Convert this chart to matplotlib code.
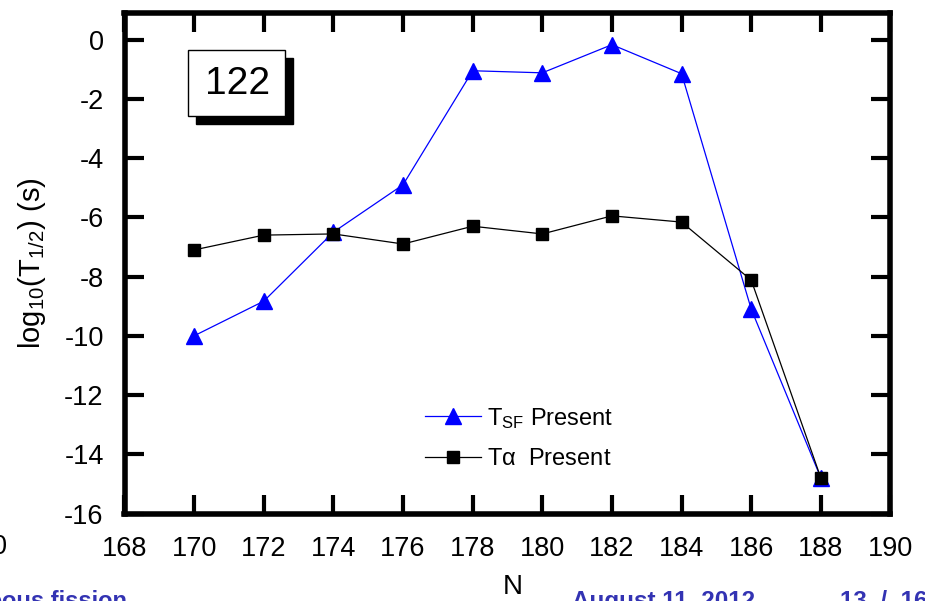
import matplotlib
matplotlib.use('Agg')
import matplotlib.pyplot as plt
from matplotlib.patches import Rectangle

plt.rcParams['font.family'] = ['Liberation Sans', 'DejaVu Sans']
plt.rcParams['mathtext.fontset'] = 'custom'
plt.rcParams['mathtext.rm'] = 'Liberation Sans'
plt.rcParams['mathtext.it'] = 'Liberation Sans'
plt.rcParams['axes.unicode_minus'] = False

# neutron number
N = [170, 172, 174, 176, 178, 180, 182, 184, 186, 188]
# log10 half-lives (s)
t_sf = [-10.0, -8.83, -6.5, -4.9, -1.05, -1.12, -0.17, -1.15, -9.1, -14.8]
t_alpha = [-7.1, -6.6, -6.56, -6.9, -6.3, -6.56, -5.95, -6.16, -8.12, -14.8]

x_ticks = list(range(168, 191, 2))
y_ticks = list(range(-16, 1, 2))

fig = plt.figure(figsize=(9.25, 6.01), dpi=100)
ax = fig.add_axes([124.5/925, 1 - 513.5/601, 766/925, 500.5/601])

ax.plot(N, t_sf, '-^', color='#0000ff', lw=0.9, markersize=11,
        label=r'T$_{\mathrm{SF}}$ Present')
ax.plot(N, t_alpha, '-s', color='black', lw=0.9, markersize=9,
        label=r'T$\alpha$  Present')

ax.set_xlim(168, 190)
ax.set_ylim(-16, 0.9)
ax.set_xticks(x_ticks)
ax.set_yticks(y_ticks)
ax.tick_params(which='major', direction='in', length=14, width=3,
               top=True, right=True, labelsize=19.5)
ax.tick_params(axis='x', pad=16)
ax.tick_params(axis='y', pad=15)
for s in ax.spines.values():
    s.set_linewidth(4)

ax.set_xlabel('N', fontsize=20)
ax.xaxis.set_label_coords(0.5075, -0.121)
ax.set_ylabel(r'log$_{10}$(T$_{1/2}$) (s)', fontsize=21)
ax.yaxis.set_label_coords(-0.1, 0.5)

# "122" label box with drop shadow
ax.add_patch(Rectangle((0.0939, 0.7784), 0.1265, 0.1317, transform=ax.transAxes,
                       facecolor='black', edgecolor='black', zorder=4))
ax.add_patch(Rectangle((0.0834, 0.7944), 0.1265, 0.1317, transform=ax.transAxes,
                       facecolor='white', edgecolor='black', lw=1, zorder=5))
ax.text(0.1473, 0.859, '122', transform=ax.transAxes, fontsize=28,
        ha='center', va='center', zorder=6)

ax.legend(loc='center left', bbox_to_anchor=(0.392, 0.151), frameon=False,
          fontsize=17, handlelength=2.4, handletextpad=0.25, borderaxespad=0,
          borderpad=0, labelspacing=0.75)

# slide footer fragments
fig.text(7/925, 1 - 547/601, '0', fontsize=19.5, ha='right', va='center')
foot = '#3333b3'
base = 1 - 608/601
fig.text(-0.012, base, 'eous fission', fontsize=17, fontweight='bold',
         color=foot, ha='left', va='baseline')
fig.text(572/925, base, 'August 11, 2012', fontsize=17.5, fontweight='bold',
         color=foot, ha='left', va='baseline')
fig.text(840/925, base, '13  /  16', fontsize=17.5, fontweight='bold',
         color=foot, ha='left', va='baseline')

fig.savefig('out.png', dpi=100)
